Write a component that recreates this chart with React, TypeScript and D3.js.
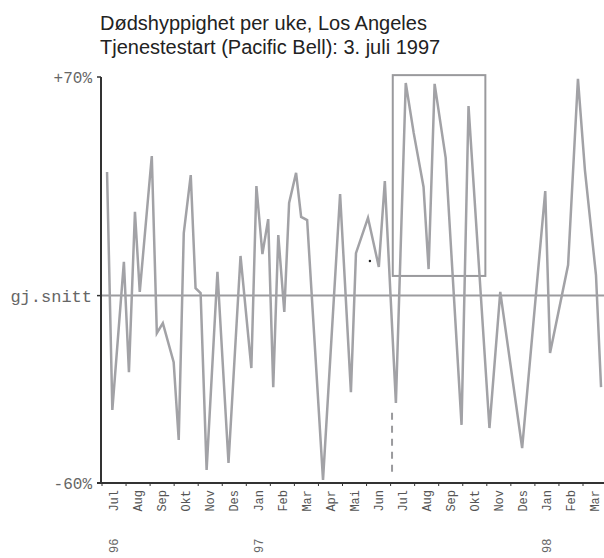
import React from 'react';
import * as d3 from 'd3';

// month offset from 1 Jul 1996, value in % relative to average
const weekMonth = [0.21, 0.43, 0.91, 1.12, 1.37, 1.57, 2.07, 2.28, 2.53, 2.98, 3.19, 3.40, 3.69, 3.89, 4.10, 4.35, 4.80, 5.26, 5.76, 6.21, 6.42, 6.67, 6.91, 7.12, 7.33, 7.58, 7.78, 8.07, 8.28, 8.53, 9.19, 9.90, 10.35, 10.56, 11.06, 11.51, 11.76, 12.22, 12.63, 12.96, 13.37, 13.58, 13.83, 14.29, 14.95, 15.24, 16.11, 16.56, 17.47, 18.43, 18.63, 19.38, 19.79, 20.08, 20.54, 20.75];
const weekValue = [39.6, -36.6, 10.8, -24.5, 26.8, 1.2, 44.7, -12, -8.8, -21.3, -46.2, 20, 38.6, 2.4, 0.8, -55.8, 7.6, -53.6, 12.7, -23.2, 35.1, 13.3, 24.5, -29.3, 19.4, -5.2, 29.7, 39.3, 25.2, 24.2, -59, 32.5, -30.9, 13.6, 24.9, 9.2, 36.7, -34.4, 68.1, 52.1, 34.8, 8.5, 67.8, 44.1, -41.4, 60.7, -42.4, 1.2, -48.8, 33.5, -18.4, 9.8, 69.4, 40.2, 6.6, -29.3];

const monthLabels = ['Jul', 'Aug', 'Sep', 'Okt', 'Nov', 'Des', 'Jan', 'Feb', 'Mar', 'Apr', 'Mai', 'Jun', 'Jul', 'Aug', 'Sep', 'Okt', 'Nov', 'Des', 'Jan', 'Feb', 'Mar'];
const yearLabels = [{ month: 0, label: '96' }, { month: 6, label: '97' }, { month: 18, label: '98' }];
const yTicks = [{ v: 70, label: '+70%' }, { v: 0, label: 'gj.snitt' }, { v: -60, label: '-60%' }];

const serviceStart = 12.06; // 3. juli 1997
const boxMonths = [12.09, 15.94];
const boxValues = [6.3, 70.6];
const strayDot = { m: 11.14, v: 11.1 };

const W = 604;
const H = 558;
const mono = '"Liberation Mono", "Courier New", monospace';
const sans = '"Liberation Sans", Arial, sans-serif';

export default function App() {
  const x = d3.scaleLinear().domain([0, 21]).range([102, 102 + 21 * 24.05]);
  const y = d3.scaleLinear().domain([-60, 70]).range([483, 77]);

  const points = weekMonth.map((m, i) => [m, weekValue[i]] as [number, number]);
  const line = d3.line<[number, number]>()
    .x(d => x(d[0]))
    .y(d => y(d[1]));

  const axisX = 101;
  const axisColor = '#333';
  const gray = '#a2a2a6';

  return (
    <svg width={W} height={H} style={{ position: 'absolute', left: 0, top: 0, background: '#fff' }}>
      <text x={100} y={30} fontFamily={sans} fontSize={20} fill="#222">Dødshyppighet per uke, Los Angeles</text>
      <text x={100} y={54} fontFamily={sans} fontSize={20} fill="#222">Tjenestestart (Pacific Bell): 3. juli 1997</text>

      {/* average line */}
      <line x1={axisX} x2={W} y1={y(0)} y2={y(0)} stroke="#9c9c9f" strokeWidth={2} />

      {/* highlighted box */}
      <rect x={x(boxMonths[0])} y={y(boxValues[1])} width={x(boxMonths[1]) - x(boxMonths[0])}
        height={y(boxValues[0]) - y(boxValues[1])} fill="none" stroke="#9a9a9d" strokeWidth={2} />

      {/* service start marker */}
      <line x1={x(serviceStart)} x2={x(serviceStart)} y1={y(-37.5)} y2={y(-57.5)}
        stroke="#9a9a9d" strokeWidth={2} strokeDasharray="7,6" />

      <path d={line(points) ?? ''} fill="none" stroke={gray} strokeWidth={2.5} strokeLinejoin="miter" />
      <circle cx={x(strayDot.m)} cy={y(strayDot.v)} r={1.2} fill="#222" />

      {/* axes */}
      <line x1={axisX} x2={axisX} y1={y(70)} y2={y(-60)} stroke={axisColor} strokeWidth={2} />
      <line x1={axisX - 4} x2={W} y1={y(-60)} y2={y(-60)} stroke={axisColor} strokeWidth={2} />
      {yTicks.map(t => (
        <g key={t.label}>
          <line x1={axisX - 4} x2={axisX} y1={y(t.v)} y2={y(t.v)} stroke={axisColor} strokeWidth={1.5} />
          <text x={axisX - 9} y={y(t.v)} dy="0.35em" textAnchor="end" fontFamily={mono}
            fontSize={t.label === 'gj.snitt' ? 17 : 16} fill="#666">{t.label}</text>
        </g>
      ))}
      {d3.range(0, 22).map(m => (
        <line key={m} x1={x(m)} x2={x(m)} y1={y(-60)} y2={y(-60) + 3} stroke={axisColor} strokeWidth={1} />
      ))}
      {monthLabels.map((label, i) => (
        <text key={i} transform={`translate(${x(i + 0.5)},490) rotate(-90)`} dy="0.35em"
          textAnchor="end" fontFamily={mono} fontSize={12} fill="#555">{label}</text>
      ))}
      {yearLabels.map(d => (
        <text key={d.label} transform={`translate(${x(d.month + 0.5)},553) rotate(-90)`} dy="0.35em"
          textAnchor="start" fontFamily={mono} fontSize={12} fill="#666">{d.label}</text>
      ))}
    </svg>
  );
}
